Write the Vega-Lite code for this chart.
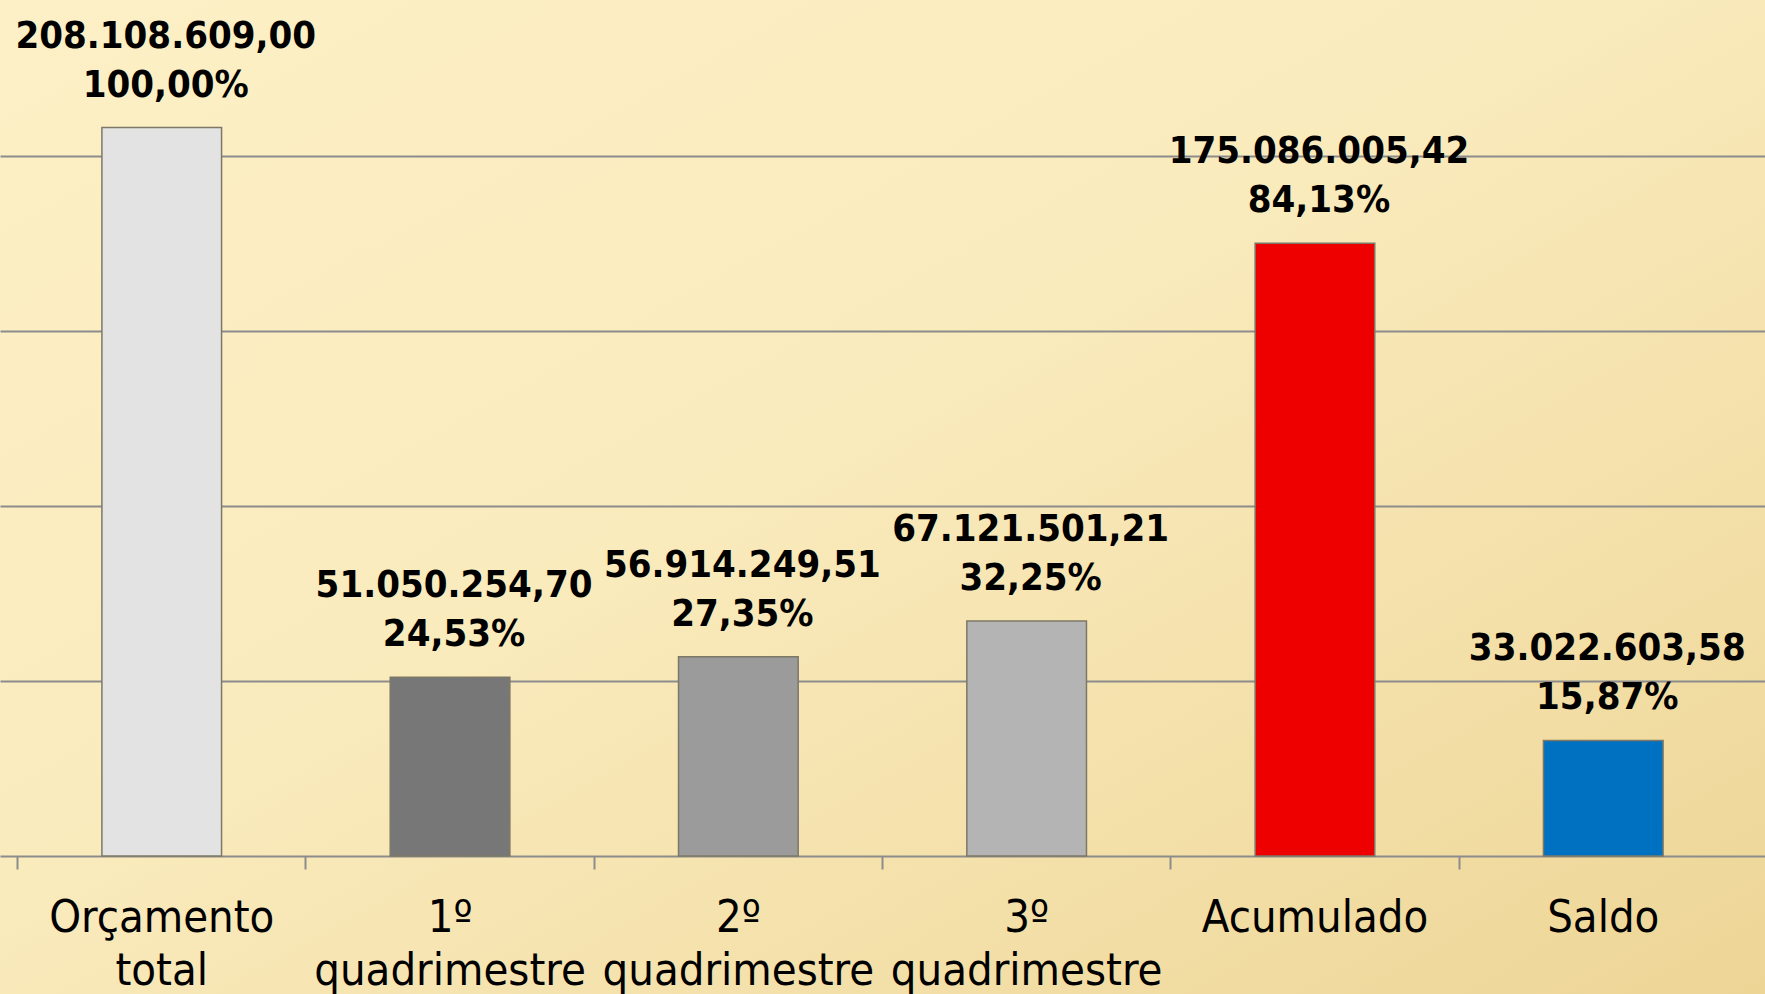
{
  "$schema": "https://vega.github.io/schema/vega-lite/v6.json",
  "autosize": {"type": "none"},
  "padding": 0,
  "width": 1765,
  "height": 994,
  "background": "#f6e4ae",
  "config": {
    "view": {
      "stroke": null,
      "fill": {"gradient": "linear", "x1": 0, "y1": 0, "x2": 1, "y2": 1, "stops": [{"offset": 0, "color": "#fdf0c6"}, {"offset": 0.45, "color": "#faebbd"}, {"offset": 1, "color": "#edd596"}]}
    },
    "locale": {"number": {"decimal": ",", "thousands": ".", "grouping": [3], "currency": ["R$ ", ""]}}
  },
  "data": {
    "values": [
      {"categoria": "Orçamento total", "valor": 208108609.00, "pct": 1.0},
      {"categoria": "1º quadrimestre", "valor": 51050254.70, "pct": 0.2453},
      {"categoria": "2º quadrimestre", "valor": 56914249.51, "pct": 0.2735},
      {"categoria": "3º quadrimestre", "valor": 67121501.21, "pct": 0.3225},
      {"categoria": "Acumulado", "valor": 175086005.42, "pct": 0.8413},
      {"categoria": "Saldo", "valor": 33022603.58, "pct": 0.1587}
    ]
  },
  "encoding": {
    "x": {
      "field": "categoria",
      "type": "nominal",
      "sort": null,
      "scale": {"paddingInner": 0, "paddingOuter": 0.061},
      "axis": {
        "title": null,
        "offset": -138,
        "domain": false,
        "labelAngle": 0,
        "labelExpr": "split(datum.label, ' ')",
        "labelFont": "DejaVu Sans Condensed",
        "labelFontSize": 45,
        "labelLimit": 0,
        "labelColor": "#000000",
        "labelBaseline": "alphabetic",
        "labelLineHeight": 53,
        "labelPadding": 62,
        "bandPosition": 0,
        "tickSize": 13,
        "tickColor": "#8c8c8c",
        "tickWidth": 2,
        "grid": false
      }
    },
    "y": {
      "field": "valor",
      "type": "quantitative",
      "scale": {"domain": [-39430000, 244570000], "nice": false, "zero": false},
      "axis": {
        "title": null,
        "labels": false,
        "ticks": false,
        "domain": false,
        "grid": true,
        "gridColor": "#8c8c8c",
        "gridWidth": 2,
        "values": [0, 50000000, 100000000, 150000000, 200000000]
      }
    }
  },
  "layer": [
    {
      "mark": {"type": "bar", "width": {"band": 0.415}, "stroke": "#7d7866", "strokeWidth": 1.5},
      "encoding": {
        "color": {
          "field": "categoria",
          "type": "nominal",
          "sort": null,
          "legend": null,
          "scale": {
            "domain": ["Orçamento total", "1º quadrimestre", "2º quadrimestre", "3º quadrimestre", "Acumulado", "Saldo"],
            "range": ["#e3e3e3", "#777777", "#9b9b9b", "#b4b4b4", "#ee0000", "#0070c0"]
          }
        }
      }
    },
    {
      "mark": {"type": "text", "font": "DejaVu Sans Condensed", "fontWeight": "bold", "fontSize": 38, "baseline": "alphabetic", "dy": -80, "dx": 4, "color": "#000000"},
      "encoding": {"text": {"field": "valor", "type": "quantitative", "format": ",.2f"}}
    },
    {
      "mark": {"type": "text", "font": "DejaVu Sans Condensed", "fontWeight": "bold", "fontSize": 38, "baseline": "alphabetic", "dy": -31, "dx": 4, "color": "#000000"},
      "encoding": {"text": {"field": "pct", "type": "quantitative", "format": ".2%"}}
    }
  ]
}
